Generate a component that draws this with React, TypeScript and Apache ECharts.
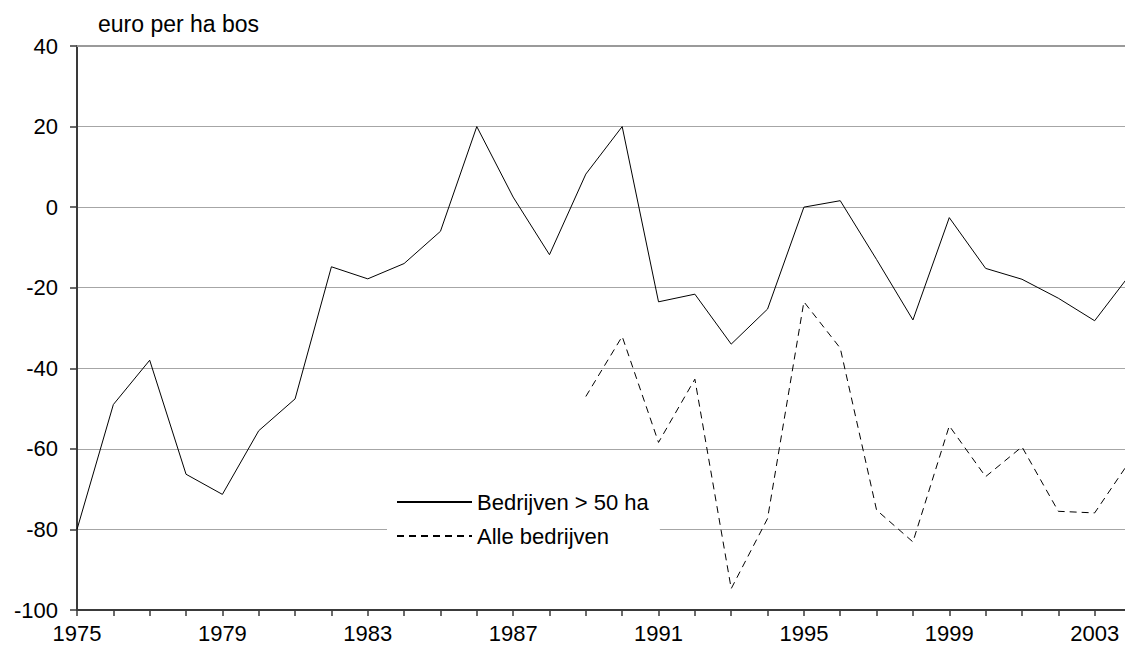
import React, { useEffect, useRef } from "react";
import * as echarts from "echarts";

const years: string[] = [
  "1975", "1976", "1977", "1978", "1979", "1980", "1981", "1982", "1983", "1984",
  "1985", "1986", "1987", "1988", "1989", "1990", "1991", "1992", "1993", "1994",
  "1995", "1996", "1997", "1998", "1999", "2000", "2001", "2002", "2003", "2004",
];

const groteBedrijven: (number | null)[] = [
  -80, -49, -38, -66.3, -71.3, -55.5, -47.6, -14.8, -17.8, -14,
  -6, 20, 2.5, -11.8, 8.2, 20, -23.5, -21.6, -34, -25.3,
  0, 1.6, -13, -28, -2.6, -15.2, -17.9, -22.6, -28.2, -16.4,
];

const alleBedrijven: (number | null)[] = [
  null, null, null, null, null, null, null, null, null, null,
  null, null, null, null, -47, -32.1, -58.4, -42.7, -94.7, -77.3,
  -23.5, -35, -75.2, -83.1, -54.3, -66.9, -59.5, -75.5, -75.9, -62.6,
];

const seriesNames = ["Bedrijven > 50 ha", "Alle bedrijven"];
const unitLabel = "euro per ha bos";

const FONT = "'Liberation Sans', Arial, Helvetica, sans-serif";

export default function App() {
  const ref = useRef<HTMLDivElement>(null);

  useEffect(() => {
    if (!ref.current) return;
    const chart = echarts.init(ref.current, undefined, { renderer: "svg" });
    chart.setOption({
      animation: false,
      backgroundColor: "#fff",
      textStyle: { fontFamily: FONT },
      title: {
        text: unitLabel,
        left: 98,
        top: 12,
        padding: 0,
        textStyle: { fontSize: 23, fontWeight: "normal", color: "#000", fontFamily: FONT },
      },
      legend: {
        orient: "vertical",
        left: 387,
        top: 486,
        padding: [5, 11, 5, 9],
        backgroundColor: "#fff",
        itemWidth: 75,
        itemHeight: 14,
        itemGap: 12,
        data: seriesNames,
        itemStyle: { opacity: 0 },
        textStyle: { fontSize: 22, lineHeight: 22, color: "#000", fontFamily: FONT },
      },
      grid: { left: 77, right: 0, top: 46, bottom: 43, containLabel: false },
      xAxis: [
        {
          type: "category",
          data: years,
          boundaryGap: false,
          position: "bottom",
          axisLine: { show: true, onZero: false, lineStyle: { color: "#3a3a3a", width: 2 } },
          axisTick: { show: true, interval: 0, length: 6, lineStyle: { color: "#3a3a3a", width: 1.5 } },
          axisLabel: { interval: 3, fontSize: 22, color: "#000", margin: 12, fontFamily: FONT },
          splitLine: { show: false },
        },
        {
          type: "category",
          data: years,
          boundaryGap: false,
          position: "top",
          axisLine: { show: true, onZero: false, lineStyle: { color: "#9a9a9a", width: 2 } },
          axisTick: { show: false },
          axisLabel: { show: false },
          splitLine: { show: false },
        },
      ],
      yAxis: {
        type: "value",
        min: -100,
        max: 40,
        interval: 20,
        axisLine: { show: true, onZero: false, lineStyle: { color: "#3a3a3a", width: 2 } },
        axisTick: { show: true, length: 7, lineStyle: { color: "#3a3a3a", width: 1.5 } },
        axisLabel: { fontSize: 22, color: "#000", margin: 19, fontFamily: FONT },
        splitLine: { show: true, lineStyle: { color: "#a6a6a6", width: 1.2 } },
      },
      series: [
        {
          name: seriesNames[0],
          type: "line",
          data: groteBedrijven,
          symbol: "none",
          connectNulls: false,
          lineStyle: { color: "#000", width: 1, type: "solid" },
          itemStyle: { color: "#000" },
        },
        {
          name: seriesNames[1],
          type: "line",
          data: alleBedrijven,
          symbol: "none",
          connectNulls: false,
          lineStyle: { color: "#000", width: 1, type: [7, 5] },
          itemStyle: { color: "#000" },
        },
      ],
    });
    return () => chart.dispose();
  }, []);

  return (
    <div
      style={{
        position: "fixed",
        left: 0,
        top: 0,
        width: 1125,
        height: 653,
        overflow: "hidden",
        background: "#fff",
      }}
    >
      <div ref={ref} style={{ width: 1131, height: 653 }} />
    </div>
  );
}
